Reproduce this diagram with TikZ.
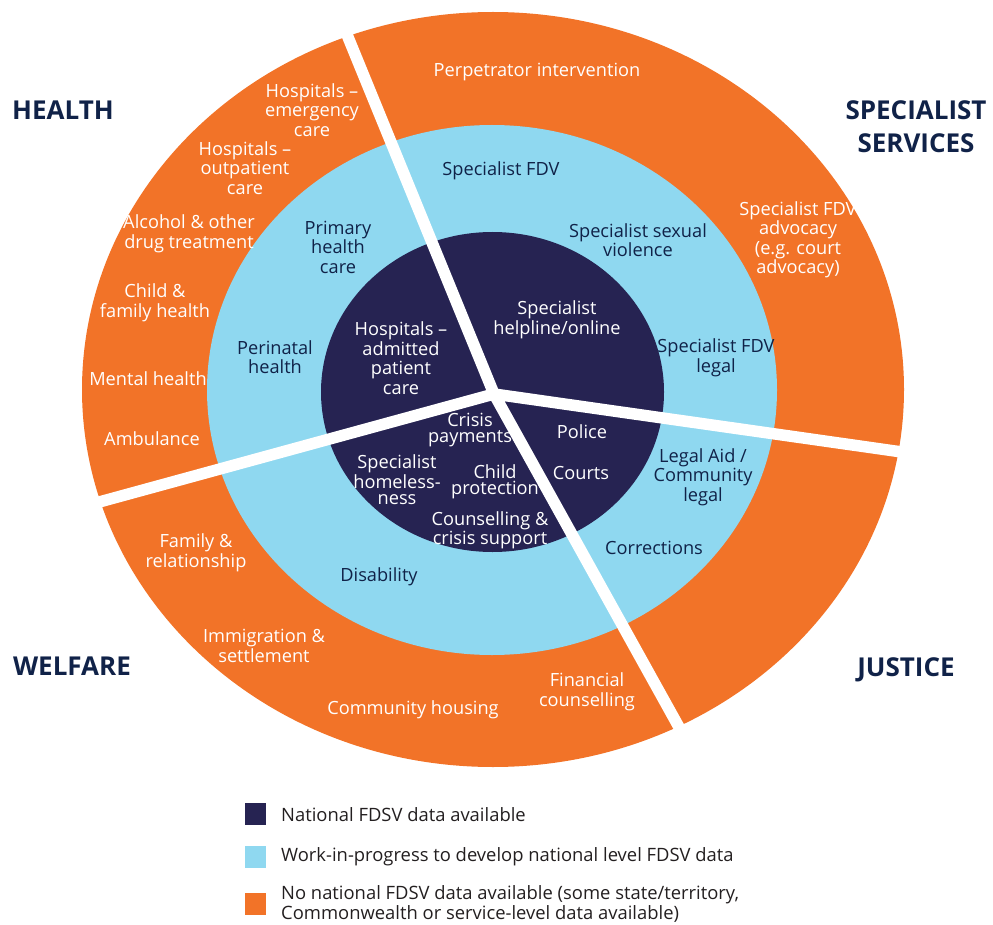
\documentclass[tikz,border=0pt]{standalone}
\usepackage{fontspec}
\setmainfont{Open Sans}
\definecolor{ringorange}{RGB}{242,115,40}
\definecolor{ringblue}{RGB}{143,216,240}
\definecolor{corenavy}{RGB}{38,35,82}
\definecolor{inknavy}{RGB}{16,34,72}
\definecolor{inkgrey}{RGB}{35,31,32}
\tikzset{
  outerlbl/.style={text=white, align=center, inner sep=0pt,
    font=\fontsize{18.2}{19.5}\selectfont},
  midlbl/.style={outerlbl, text=inknavy},
  corelbl/.style={outerlbl},
  corelbltight/.style={outerlbl, font=\fontsize{18.2}{16.5}\selectfont},
  sector/.style={text=inknavy, align=center, inner sep=0pt,
    font=\bfseries\fontsize{26}{33}\selectfont},
  gap/.style={white, line width=11.5pt, line cap=round},
  keybox/.style={minimum width=21pt, minimum height=22pt, inner sep=0pt},
  keytext/.style={text=inkgrey, anchor=west, align=left, inner sep=0pt,
    font=\fontsize{18.4}{20}\selectfont}
}
\begin{document}
\begin{tikzpicture}[x=1pt,y=-1pt]
  \useasboundingbox (0,0) rectangle (993,925);

  % the three rings
  \fill[ringorange] (493,389.5) ellipse [x radius=411pt, y radius=377.5pt];
  \fill[ringblue] (492,390) ellipse [x radius=285pt, y radius=265pt];
  \fill[corenavy] (492.5,392) ellipse [x radius=171.5pt, y radius=160pt];

  % white cuts between the sectors
  \coordinate (hub) at (494,394);
  \coordinate (cutNW) at (341,20);
  \coordinate (cutE) at (930,456);
  \coordinate (cutSE) at (700,765);
  \coordinate (cutW) at (70,510);
  \draw[gap] (hub) -- (cutNW) (hub) -- (cutE)
    (hub) -- (cutSE) (hub) -- (cutW);

  % sectors
  \node[sector] (health) at (63,110) {HEALTH};
  \node[sector] (specialist) at (916,127) {SPECIALIST\\SERVICES};
  \node[sector] (welfare) at (72,666) {WELFARE};
  \node[sector] (justice) at (906,670) {JUSTICE};

  % outer ring
  \node[outerlbl] (perp) at (537,72) {Perpetrator intervention};
  \node[outerlbl] (hospEmerg) at (312,110) {Hospitals --\\emergency\\care};
  \node[outerlbl] (hospOut) at (245,168) {Hospitals --\\outpatient\\care};
  \node[outerlbl] (alcohol) at (189,234) {Alcohol \& other\\drug treatment};
  \node[outerlbl] (childFam) at (155,303) {Child \&\\family health};
  \node[outerlbl] (mental) at (148,379) {Mental health};
  \node[outerlbl] (ambulance) at (152,439) {Ambulance};
  \node[outerlbl] (family) at (196,553) {Family \&\\relationship};
  \node[outerlbl] (immig) at (264,646) {Immigration \&\\settlement};
  \node[outerlbl] (housing) at (413,710) {Community housing};
  \node[outerlbl] (finance) at (587,692) {Financial\\counselling};
  \node[outerlbl] (advocacy) at (798,240) {Specialist FDV\\advocacy\\(e.g. court\\advocacy)};

  % middle ring
  \node[midlbl] (fdv) at (501,171) {Specialist FDV};
  \node[midlbl] (primary) at (338,247) {Primary\\health\\care};
  \node[midlbl] (perinatal) at (275,357) {Perinatal\\health};
  \node[midlbl] (sexual) at (638,240) {Specialist sexual\\violence};
  \node[midlbl] (fdvLegal) at (716,358) {Specialist FDV\\legal};
  \node[midlbl] (legalAid) at (703,477) {Legal Aid /\\Community\\legal};
  \node[midlbl] (corrections) at (654,548) {Corrections};
  \node[midlbl] (disability) at (379,577) {Disability};

  % core
  \node[corelbl] (helpline) at (557,320) {Specialist\\helpline/online};
  \node[corelbl] (hospAdm) at (401,358) {Hospitals --\\admitted\\patient\\care};
  \node[corelbltight] (crisis) at (470,430) {Crisis\\payments};
  \node[corelbl] (police) at (582,432) {Police};
  \node[corelbl] (courts) at (581,473) {Courts};
  \node[corelbltight] (homeless) at (397,480) {Specialist\\homeless-\\ness};
  \node[corelbltight] (childProt) at (495,482) {Child\\protection};
  \node[corelbltight] (counsel) at (490,530) {Counselling \&\\crisis support};

  % legend
  \node[keybox, fill=corenavy] (keyNat) at (255,814) {};
  \node[keybox, fill=ringblue] (keyWip) at (255,857) {};
  \node[keybox, fill=ringorange] (keyNone) at (255,903.5) {};
  \node[keytext] (txtNat) at (281,815) {National FDSV data available};
  \node[keytext] (txtWip) at (281,857) {Work-in-progress to develop national level FDSV data};
  \node[keytext] (txtNone) at (281,904) {No national FDSV data available (some state/territory,\\Commonwealth or service-level data available)};
\end{tikzpicture}
\end{document}
